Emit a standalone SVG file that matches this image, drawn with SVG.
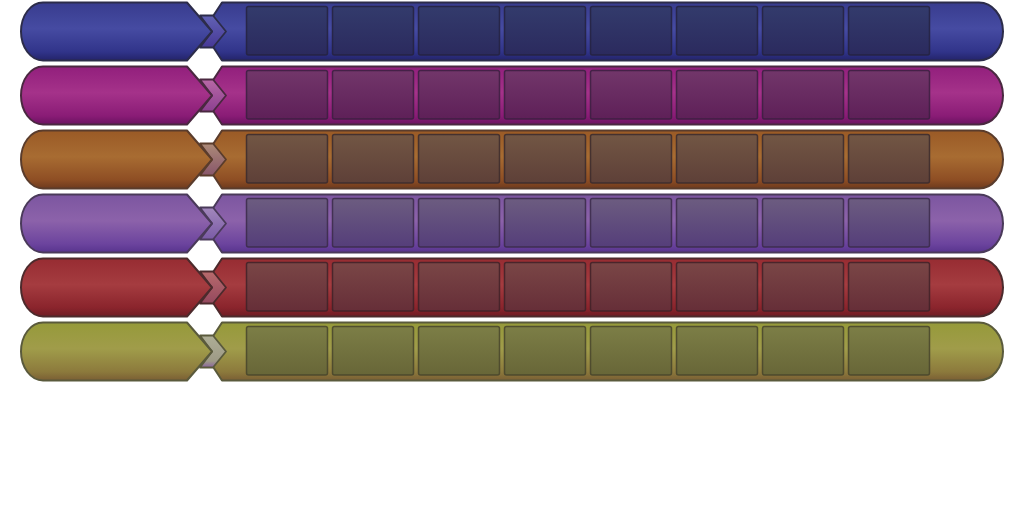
<svg xmlns="http://www.w3.org/2000/svg" width="1024" height="512" viewBox="0 0 1024 512">
<defs>
  <linearGradient id="g1" x1="0" y1="0" x2="0" y2="1"><stop offset="0" stop-color="#383c8e"/><stop offset="0.45" stop-color="#464ba2"/><stop offset="0.85" stop-color="#31348a"/><stop offset="1" stop-color="#23236a"/></linearGradient>
  <linearGradient id="g2" x1="0" y1="0" x2="0" y2="1"><stop offset="0" stop-color="#921f7c"/><stop offset="0.45" stop-color="#a5328a"/><stop offset="0.85" stop-color="#8a1c76"/><stop offset="1" stop-color="#6a1260"/></linearGradient>
  <linearGradient id="g3" x1="0" y1="0" x2="0" y2="1"><stop offset="0" stop-color="#9a5a26"/><stop offset="0.45" stop-color="#a86c32"/><stop offset="0.85" stop-color="#8e4e24"/><stop offset="1" stop-color="#6e3a1e"/></linearGradient>
  <linearGradient id="g4" x1="0" y1="0" x2="0" y2="1"><stop offset="0" stop-color="#7c56a0"/><stop offset="0.45" stop-color="#8c62aa"/><stop offset="0.85" stop-color="#6c449e"/><stop offset="1" stop-color="#58348e"/></linearGradient>
  <linearGradient id="g5" x1="0" y1="0" x2="0" y2="1"><stop offset="0" stop-color="#972c32"/><stop offset="0.45" stop-color="#a53c40"/><stop offset="0.85" stop-color="#8a242c"/><stop offset="1" stop-color="#6e1c24"/></linearGradient>
  <linearGradient id="g6" x1="0" y1="0" x2="0" y2="1"><stop offset="0" stop-color="#969a3a"/><stop offset="0.45" stop-color="#a09c4a"/><stop offset="0.85" stop-color="#8c7a3c"/><stop offset="1" stop-color="#7a5e34"/></linearGradient>

  <linearGradient id="b1" x1="0" y1="0" x2="0" y2="1"><stop offset="0" stop-color="#333b6c"/><stop offset="1" stop-color="#2b2a5e"/></linearGradient>
  <linearGradient id="b2" x1="0" y1="0" x2="0" y2="1"><stop offset="0" stop-color="#72366a"/><stop offset="1" stop-color="#5e2058"/></linearGradient>
  <linearGradient id="b3" x1="0" y1="0" x2="0" y2="1"><stop offset="0" stop-color="#725644"/><stop offset="1" stop-color="#5e4038"/></linearGradient>
  <linearGradient id="b4" x1="0" y1="0" x2="0" y2="1"><stop offset="0" stop-color="#6c5c80"/><stop offset="1" stop-color="#553e7a"/></linearGradient>
  <linearGradient id="b5" x1="0" y1="0" x2="0" y2="1"><stop offset="0" stop-color="#7a4646"/><stop offset="1" stop-color="#662e38"/></linearGradient>
  <linearGradient id="b6" x1="0" y1="0" x2="0" y2="1"><stop offset="0" stop-color="#7c7e46"/><stop offset="1" stop-color="#686638"/></linearGradient>

  <linearGradient id="c1" x1="0" y1="0" x2="0" y2="1"><stop offset="0" stop-color="#6262b4"/><stop offset="1" stop-color="#463896"/></linearGradient>
  <linearGradient id="c2" x1="0" y1="0" x2="0" y2="1"><stop offset="0" stop-color="#b868a6"/><stop offset="1" stop-color="#8c4090"/></linearGradient>
  <linearGradient id="c3" x1="0" y1="0" x2="0" y2="1"><stop offset="0" stop-color="#ac8a78"/><stop offset="1" stop-color="#88566a"/></linearGradient>
  <linearGradient id="c4" x1="0" y1="0" x2="0" y2="1"><stop offset="0" stop-color="#a288bc"/><stop offset="1" stop-color="#7a5aa6"/></linearGradient>
  <linearGradient id="c5" x1="0" y1="0" x2="0" y2="1"><stop offset="0" stop-color="#b86a6c"/><stop offset="1" stop-color="#94485e"/></linearGradient>
  <linearGradient id="c6" x1="0" y1="0" x2="0" y2="1"><stop offset="0" stop-color="#aeae96"/><stop offset="0.8" stop-color="#9e9a86"/><stop offset="1" stop-color="#8a62a0"/></linearGradient>

  <path id="leftShape" d="M43,2.5 L187,2.5 L212,31.5 L187,60.5 L43,60.5 A22,29 0 0 1 43,2.5 Z"/>
  <path id="rightShape" d="M222,2.5 L979,2.5 A24,29 0 0 1 979,60.5 L222,60.5 L203,31.5 Z"/>
  <path id="chev" d="M200,15.5 L213,15.5 L226,31.5 L213,47.5 L200,47.5 L212,31.5 Z"/>
  <g id="boxes">
    <rect x="246.5" y="6.5" width="81" height="48.5" rx="2"/>
    <rect x="332.5" y="6.5" width="81" height="48.5" rx="2"/>
    <rect x="418.5" y="6.5" width="81" height="48.5" rx="2"/>
    <rect x="504.5" y="6.5" width="81" height="48.5" rx="2"/>
    <rect x="590.5" y="6.5" width="81" height="48.5" rx="2"/>
    <rect x="676.5" y="6.5" width="81" height="48.5" rx="2"/>
    <rect x="762.5" y="6.5" width="81" height="48.5" rx="2"/>
    <rect x="848.5" y="6.5" width="81" height="48.5" rx="2"/>
  </g>
</defs>
<style>
  .shape { stroke-width: 2; stroke-linejoin: round; }
  .chev { stroke-width: 1.8; stroke-linejoin: round; }
  .box { stroke-width: 1.5; stroke-opacity: 0.85; }
  .r1 { stroke: #2c2c4a; } .r2 { stroke: #4a2840; } .r3 { stroke: #5a3c2c; }
  .r4 { stroke: #4a3a5a; } .r5 { stroke: #4c2a2c; } .r6 { stroke: #5a5a3c; }
  .hl { fill: none; stroke: #ffffff; stroke-opacity: 0.12; stroke-width: 1; }
</style>

<!-- right bands -->
<g id="bands">
  <g id="band1" transform="translate(0,0)"><use href="#rightShape" class="shape r1" fill="url(#g1)"/><use href="#boxes" class="box" fill="url(#b1)" stroke="#24223e"/></g>
  <g id="band2" transform="translate(0,64)"><use href="#rightShape" class="shape r2" fill="url(#g2)"/><use href="#boxes" class="box" fill="url(#b2)" stroke="#3a2040"/></g>
  <g id="band3" transform="translate(0,128)"><use href="#rightShape" class="shape r3" fill="url(#g3)"/><use href="#boxes" class="box" fill="url(#b3)" stroke="#3a2a2e"/></g>
  <g id="band4" transform="translate(0,192)"><use href="#rightShape" class="shape r4" fill="url(#g4)"/><use href="#boxes" class="box" fill="url(#b4)" stroke="#3a2a48"/></g>
  <g id="band5" transform="translate(0,256)"><use href="#rightShape" class="shape r5" fill="url(#g5)"/><use href="#boxes" class="box" fill="url(#b5)" stroke="#3e2228"/></g>
  <g id="band6" transform="translate(0,320)"><use href="#rightShape" class="shape r6" fill="url(#g6)"/><use href="#boxes" class="box" fill="url(#b6)" stroke="#46442c"/></g>
</g>

<!-- connectors (chevrons) -->
<g id="connectors">
  <use href="#chev" class="chev r1" fill="url(#c1)" transform="translate(0,0)"/>
  <use href="#chev" class="chev r2" fill="url(#c2)" transform="translate(0,64)"/>
  <use href="#chev" class="chev r3" fill="url(#c3)" transform="translate(0,128)"/>
  <use href="#chev" class="chev r4" fill="url(#c4)" transform="translate(0,192)"/>
  <use href="#chev" class="chev r5" fill="url(#c5)" transform="translate(0,256)"/>
  <use href="#chev" class="chev r6" fill="url(#c6)" transform="translate(0,320)"/>
</g>

<!-- left labels -->
<g id="labels">
  <g id="label1" transform="translate(0,0)"><use href="#leftShape" class="shape r1" fill="url(#g1)"/></g>
  <g id="label2" transform="translate(0,64)"><use href="#leftShape" class="shape r2" fill="url(#g2)"/></g>
  <g id="label3" transform="translate(0,128)"><use href="#leftShape" class="shape r3" fill="url(#g3)"/></g>
  <g id="label4" transform="translate(0,192)"><use href="#leftShape" class="shape r4" fill="url(#g4)"/></g>
  <g id="label5" transform="translate(0,256)"><use href="#leftShape" class="shape r5" fill="url(#g5)"/></g>
  <g id="label6" transform="translate(0,320)"><use href="#leftShape" class="shape r6" fill="url(#g6)"/></g>
</g>
</svg>
